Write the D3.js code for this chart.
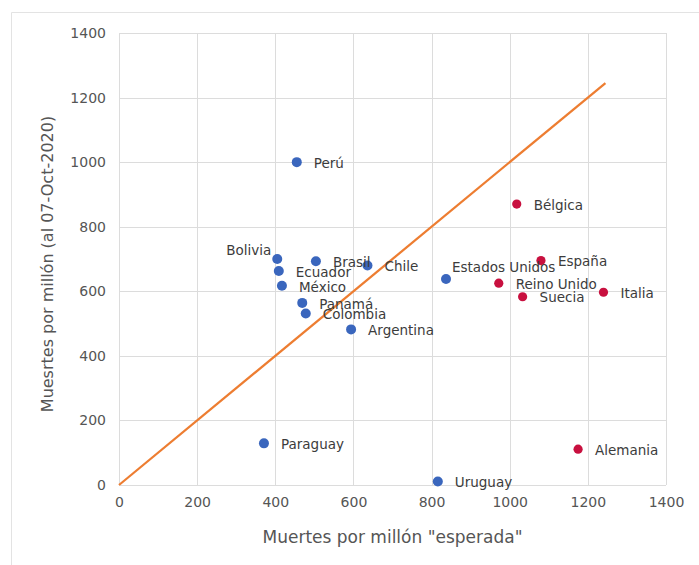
<!DOCTYPE html>
<html>
<head>
<meta charset="utf-8">
<script src="https://cdn.jsdelivr.net/npm/d3@7"></script>
<style>
  html, body { margin: 0; padding: 0; background: #fff; }
  svg { display: block; font-family: "DejaVu Sans", Verdana, sans-serif; }
</style>
</head>
<body>
<svg id="chart" width="699" height="565"></svg>
<script>
// Countries and their values
const countries = ["Perú", "Bolivia", "Ecuador", "México", "Brasil", "Chile", "Panamá", "Colombia",
  "Argentina", "Estados Unidos", "Paraguay", "Uruguay",
  "Bélgica", "España", "Reino Unido", "Suecia", "Italia", "Alemania"];
// Expected deaths per million (x)
const expected = [455, 405, 409, 417, 504, 636, 469, 478, 594, 837, 371, 816,
  1018, 1080, 972, 1033, 1240, 1175];
// Deaths per million as of 07-Oct-2020 (y)
const observed = [1000, 700, 663, 617, 693, 680, 564, 531, 482, 638, 129, 11,
  870, 695, 625, 583, 597, 111];
// Region group: 0 = Americas, 1 = Europe
const group = [0, 0, 0, 0, 0, 0, 0, 0, 0, 0, 0, 0, 1, 1, 1, 1, 1, 1];
const ticks = [0, 200, 400, 600, 800, 1000, 1200, 1400];
// Reference line y = x
const refLine = [0, 1245];

const xTitle = "Muertes por millón \"esperada\"";
const yTitle = "Muesrtes por millón (al 07-Oct-2020)";

const groupColors = ["#3a66bd", "#c8103f"];
const labelShift = { "Bolivia": [-6, -9, "end"], "Estados Unidos": [6, -12, "start"] };

const svg = d3.select("#chart");
const plot = { left: 119, right: 666, top: 33, bottom: 485 };

const x = d3.scaleLinear().domain([0, 1400]).range([plot.left, plot.right]);
const y = d3.scaleLinear().domain([0, 1400]).range([plot.bottom, plot.top]);

// Outer chart frame (top and left edges)
svg.append("line").attr("x1", 11.5).attr("x2", 699).attr("y1", 12.5).attr("y2", 12.5)
  .attr("stroke", "#e3e3e3");
svg.append("line").attr("x1", 11.5).attr("x2", 11.5).attr("y1", 12.5).attr("y2", 565)
  .attr("stroke", "#e3e3e3");

// Gridlines
const grid = svg.append("g");
grid.selectAll("line.v").data(ticks).join("line")
  .attr("x1", d => Math.round(x(d)) + 0.5).attr("x2", d => Math.round(x(d)) + 0.5)
  .attr("y1", plot.top).attr("y2", plot.bottom)
  .attr("stroke", "#dcdcdc");
grid.selectAll("line.h").data(ticks).join("line")
  .attr("y1", d => Math.round(y(d)) + 0.5).attr("y2", d => Math.round(y(d)) + 0.5)
  .attr("x1", plot.left).attr("x2", plot.right)
  .attr("stroke", "#dcdcdc");

// Axes (labels only)
const xAxis = svg.append("g").attr("transform", `translate(0,${plot.bottom})`)
  .call(d3.axisBottom(x).tickValues(ticks).tickSize(0).tickPadding(12).tickFormat(d3.format("d")));
const yAxis = svg.append("g").attr("transform", `translate(${plot.left},0)`)
  .call(d3.axisLeft(y).tickValues(ticks).tickSize(0).tickPadding(13).tickFormat(d3.format("d")));
[xAxis, yAxis].forEach(a => {
  a.select(".domain").remove();
  a.selectAll("text").attr("fill", "#555").style("font-size", "14px")
    .style("font-family", "'DejaVu Sans', Verdana, sans-serif");
});

// Reference line
svg.append("line")
  .attr("x1", x(refLine[0])).attr("y1", y(refLine[0]))
  .attr("x2", x(refLine[1])).attr("y2", y(refLine[1]))
  .attr("stroke", "#ed7d31").attr("stroke-width", 2.25);

// Points
const pts = countries.map((c, i) => ({ name: c, x: expected[i], y: observed[i], g: group[i] }));
svg.append("g").selectAll("circle").data(pts).join("circle")
  .attr("cx", d => x(d.x)).attr("cy", d => y(d.y))
  .attr("r", d => d.g === 0 ? 5 : 4.6)
  .attr("fill", d => groupColors[d.g]);

// Point labels
svg.append("g").selectAll("text").data(pts).join("text")
  .attr("x", d => x(d.x) + (labelShift[d.name] ? labelShift[d.name][0] : 17))
  .attr("y", d => y(d.y) + (labelShift[d.name] ? labelShift[d.name][1] : 1))
  .attr("dy", "0.35em")
  .attr("text-anchor", d => labelShift[d.name] ? labelShift[d.name][2] : "start")
  .attr("fill", "#3c3c3c").style("font-size", "13.5px")
  .text(d => d.name);

// Axis titles
svg.append("text").attr("x", (plot.left + plot.right) / 2 + 0).attr("y", 537)
  .attr("dy", "0.35em").attr("text-anchor", "middle")
  .attr("fill", "#555").style("font-size", "17px").text(xTitle);
svg.append("text").attr("transform", `translate(47,${(plot.top + plot.bottom) / 2 + 5}) rotate(-90)`)
  .attr("dy", "0.35em").attr("text-anchor", "middle")
  .attr("fill", "#555").style("font-size", "16px").text(yTitle);
</script>
</body>
</html>
